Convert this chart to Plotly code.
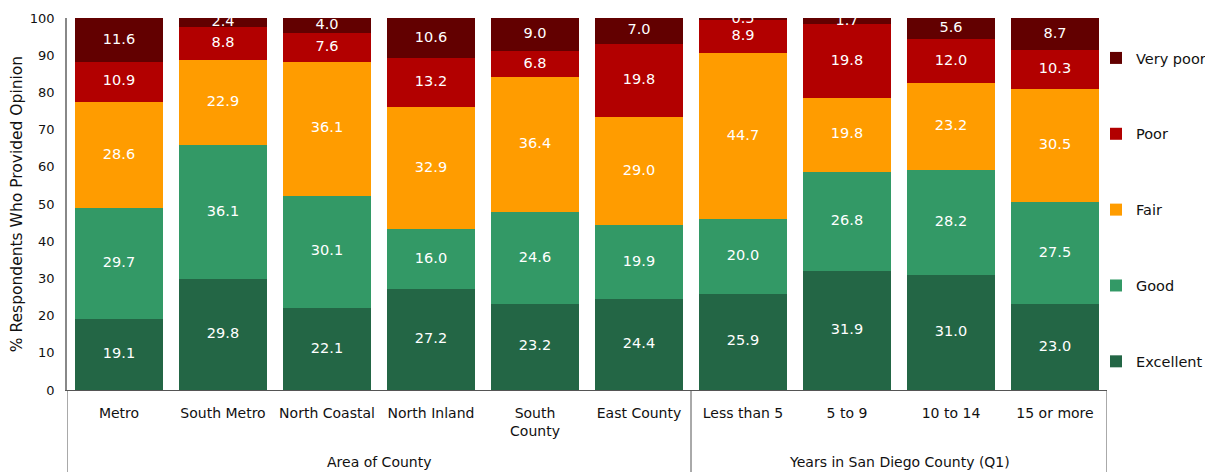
import plotly.graph_objects as go
import numpy as np

groups = ["Area of County", "Years in San Diego County (Q1)"]
group_sizes = [6, 4]
categories = ["Metro", "South Metro", "North Coastal", "North Inland", "South<br>County",
              "East County", "Less than 5", "5 to 9", "10 to 14", "15 or more"]

excellent = [19.1, 29.8, 22.1, 27.2, 23.2, 24.4, 25.9, 31.9, 31.0, 23.0]
good      = [29.7, 36.1, 30.1, 16.0, 24.6, 19.9, 20.0, 26.8, 28.2, 27.5]
fair      = [28.6, 22.9, 36.1, 32.9, 36.4, 29.0, 44.7, 19.8, 23.2, 30.5]
poor      = [10.9, 8.8, 7.6, 13.2, 6.8, 19.8, 8.9, 19.8, 12.0, 10.3]
very_poor = [11.6, 2.4, 4.0, 10.6, 9.0, 7.0, 0.5, 1.7, 5.6, 8.7]

series = [("Excellent", excellent, "#236645"),
          ("Good", good, "#339966"),
          ("Fair", fair, "#FF9C00"),
          ("Poor", poor, "#B20000"),
          ("Very poor", very_poor, "#620000")]

FONT = "DejaVu Sans"
# page body has an 8px margin, so the figure is drawn 8px smaller
W, H = 1205, 464
L, R, T, B = 59, 106, 10, 82
plot_h = H - T - B
plot_w = W - L - R

xs = list(range(len(categories)))
fig = go.Figure()
base = np.zeros(len(categories))
lx, ly, lt = [], [], []
n = len(series)
for i, (name, vals, color) in enumerate(series):
    v = np.array(vals)
    fig.add_trace(go.Bar(x=xs, y=vals, name=name, marker_color=color,
                         marker_line_width=0, legendgroup=name, legendrank=n - i,
                         hoverinfo="y+name"))
    mids = base + v / 2
    lx += xs
    ly += list(mids)
    lt += [f"{val:.1f}" for val in vals]
    base = base + v

fig.add_trace(go.Scatter(x=lx, y=ly, text=lt, mode="text",
                         textposition="middle center",
                         textfont=dict(color="white", size=14.5, family=FONT),
                         showlegend=False, cliponaxis=True, hoverinfo="skip"))

edges = np.concatenate([[0], np.cumsum(group_sizes)]) - 0.5
shapes = []
for e in edges:
    shapes.append(dict(type="line", xref="x", yref="paper", x0=e, x1=e,
                       y0=0, y1=-(B / plot_h), line=dict(color="#555", width=1)))
annotations = []
for g, a, b in zip(groups, edges[:-1], edges[1:]):
    annotations.append(dict(text=g, x=(a + b) / 2, xref="x", y=-72 / plot_h, yref="paper",
                            showarrow=False, xanchor="center", yanchor="middle",
                            font=dict(size=14, family=FONT, color="#111")))

fig.update_layout(
    barmode="stack", bargap=0.163,
    width=W, height=H,
    margin=dict(l=L, r=R, t=T, b=B, autoexpand=False),
    plot_bgcolor="white", paper_bgcolor="white",
    font=dict(family=FONT, size=13, color="#111"),
    legend=dict(traceorder="grouped", x=(1088 - L) / plot_w, y=(plot_h - 24) / plot_h,
                xanchor="left", yanchor="top",
                tracegroupgap=54, font=dict(size=14.5, family=FONT),
                itemwidth=30, bgcolor="rgba(0,0,0,0)"),
    showlegend=True,
    shapes=shapes,
    annotations=annotations,
)
fig.update_yaxes(range=[0, 100], dtick=10, showgrid=False, zeroline=False,
                 showline=True, linecolor="#888", linewidth=1.5, ticks="",
                 ticklabelstandoff=8, automargin=False, tickfont=dict(size=13),
                 title=dict(text="% Respondents Who Provided Opinion",
                            font=dict(size=15.5, family=FONT), standoff=4))
fig.update_xaxes(range=[-0.5, len(categories) - 0.5], tickvals=xs, ticktext=categories,
                 showgrid=False, showline=True, linecolor="#555", linewidth=1,
                 ticks="", ticklabelstandoff=10, automargin=False,
                 tickfont=dict(size=14, family=FONT), zeroline=False)

fig.write_html("out.html")
